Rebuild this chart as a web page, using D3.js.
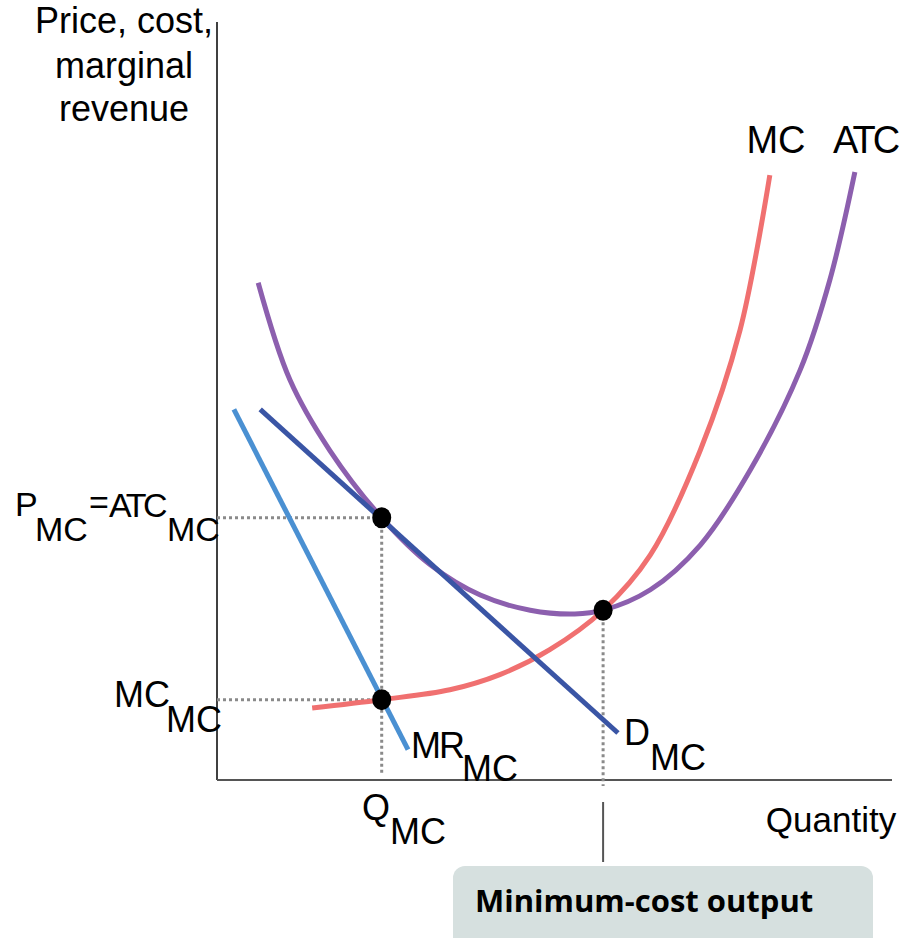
<!DOCTYPE html>
<html><head><meta charset="utf-8">
<script src="https://cdn.jsdelivr.net/npm/d3@7"></script>
<style>html,body{margin:0;padding:0;background:#fff;overflow:hidden}</style>
</head><body>
<svg id="chart" width="918" height="938"></svg>
<script>
// Data (quantity 0-100, price 0-100)
const atcCurve = [[6.1,65.6],[10.8,52.8],[16.7,43.5],[24.4,34.6],[31.6,28.4],[39.0,24.4],[46.4,22.4],[53.0,21.9],[57.2,22.4],[64.2,25.1],[71.6,31.0],[79.0,40.9],[86.4,54.1],[90.8,66.0],[94.5,80.2]];
const mcCurve = [[14.1,9.5],[24.4,10.6],[34.5,11.9],[41.9,13.9],[49.3,17.2],[57.2,22.4],[64.2,29.7],[71.6,43.5],[77.5,59.4],[81.9,79.8]];
const demandLine = [[6.4,48.9],[59.4,6.2]];
const mrLine = [[2.5,48.9],[28.3,4.0]];
const keyPoints = [[24.4,34.6],[24.4,10.6],[57.2,22.4]];
const qMC = 24.4, pMC = 34.6, mcMC = 10.6, qMinCost = 57.2, pMinCost = 22.4;
const yTitleLines = ["Price, cost,","marginal","revenue"];
const xTitle = "Quantity";
const curveLabels = ["MC","ATC"];
const boxLabel = "Minimum-cost output";

const svg = d3.select("#chart");
const x = d3.scaleLinear().domain([0,100]).range([217,892]);
const y = d3.scaleLinear().domain([0,100]).range([780,22]);
const font = "'Liberation Sans', Arial, sans-serif";

// axes
svg.append("line").attr("x1",x(0)).attr("x2",x(0)).attr("y1",y(100)).attr("y2",y(0)).attr("stroke","#000").attr("stroke-width",1.5);
svg.append("line").attr("x1",x(0)).attr("x2",x(100)).attr("y1",y(0)).attr("y2",y(0)).attr("stroke","#555").attr("stroke-width",2);

// dotted guides
function guide(x1,y1,x2,y2){
  svg.append("line").attr("x1",x1).attr("y1",y1).attr("x2",x2).attr("y2",y2)
    .attr("stroke","#8a8a8a").attr("stroke-width",3).attr("stroke-dasharray","3,3");
}
guide(x(0),y(pMC),x(qMC),y(pMC));
guide(x(0),y(mcMC),x(qMC),y(mcMC));
guide(x(qMC),y(pMC),x(qMC),y(0)-6);
guide(x(qMinCost),y(pMinCost),x(qMinCost),y(0)+6);
svg.append("line").attr("x1",x(qMinCost)).attr("x2",x(qMinCost)).attr("y1",802).attr("y2",862).attr("stroke","#555").attr("stroke-width",2);

const line = d3.line().x(d=>x(d[0])).y(d=>y(d[1]));
const curve = d3.line().x(d=>x(d[0])).y(d=>y(d[1])).curve(d3.curveCatmullRom.alpha(0.5));

svg.append("path").attr("d",line(mrLine)).attr("fill","none").attr("stroke","#4a90d2").attr("stroke-width",5);
svg.append("path").attr("d",curve(atcCurve)).attr("fill","none").attr("stroke","#8c5fae").attr("stroke-width",5);
svg.append("path").attr("d",curve(mcCurve)).attr("fill","none").attr("stroke","#f07070").attr("stroke-width",5);
svg.append("path").attr("d",line(demandLine)).attr("fill","none").attr("stroke","#3a55a5").attr("stroke-width",5);

svg.selectAll("ellipse.pt").data(keyPoints).enter().append("ellipse")
  .attr("cx",d=>x(d[0])).attr("cy",d=>y(d[1])).attr("rx",9.5).attr("ry",10.5).attr("fill","#000");

// text helpers
function t(txt,xx,yy,size,anchor){
  return svg.append("text").attr("x",xx).attr("y",yy).attr("font-family",font).attr("font-size",size)
    .attr("text-anchor",anchor||"start").attr("fill","#000").text(txt);
}
const titleBase = [33,78,121];
yTitleLines.forEach((s,i)=>t(s,124,titleBase[i],36,"middle"));
t(xTitle,831,832,35,"middle");
t(curveLabels[0],776,153,38,"middle");
t(curveLabels[1],865,153,38,"middle").attr("letter-spacing",-3);

// compound labels with subscripts: parts = [text, x, baseline, letterSpacing]
function compound(parts,size){
  const el = svg.append("text").attr("font-family",font).attr("font-size",size||36).attr("fill","#000");
  parts.forEach(p=>{
    el.append("tspan").attr("x",p[1]).attr("y",p[2]).attr("letter-spacing",p[3]||0).text(p[0]);
  });
}
compound([["P",15,516],["MC",35,541],["=",89,514,0],["ATC",109,517,-3.5],["MC",167,541]],34);
compound([["MC",114,707],["MC",166,732]]);
compound([["MR",411,758,-2],["MC",462,781]]);
compound([["D",624,745],["MC",650,770]]);
compound([["Q",362,820],["MC",390,844]]);

// box
svg.append("rect").attr("x",453).attr("y",866).attr("width",420).attr("height",90).attr("rx",12).attr("fill","#d6e0df");
svg.append("text").attr("x",475).attr("y",912).attr("font-family","'Open Sans', Lato, sans-serif").attr("font-weight","bold")
  .attr("font-size",31).attr("fill","#000").text(boxLabel);
</script>
</body></html>
